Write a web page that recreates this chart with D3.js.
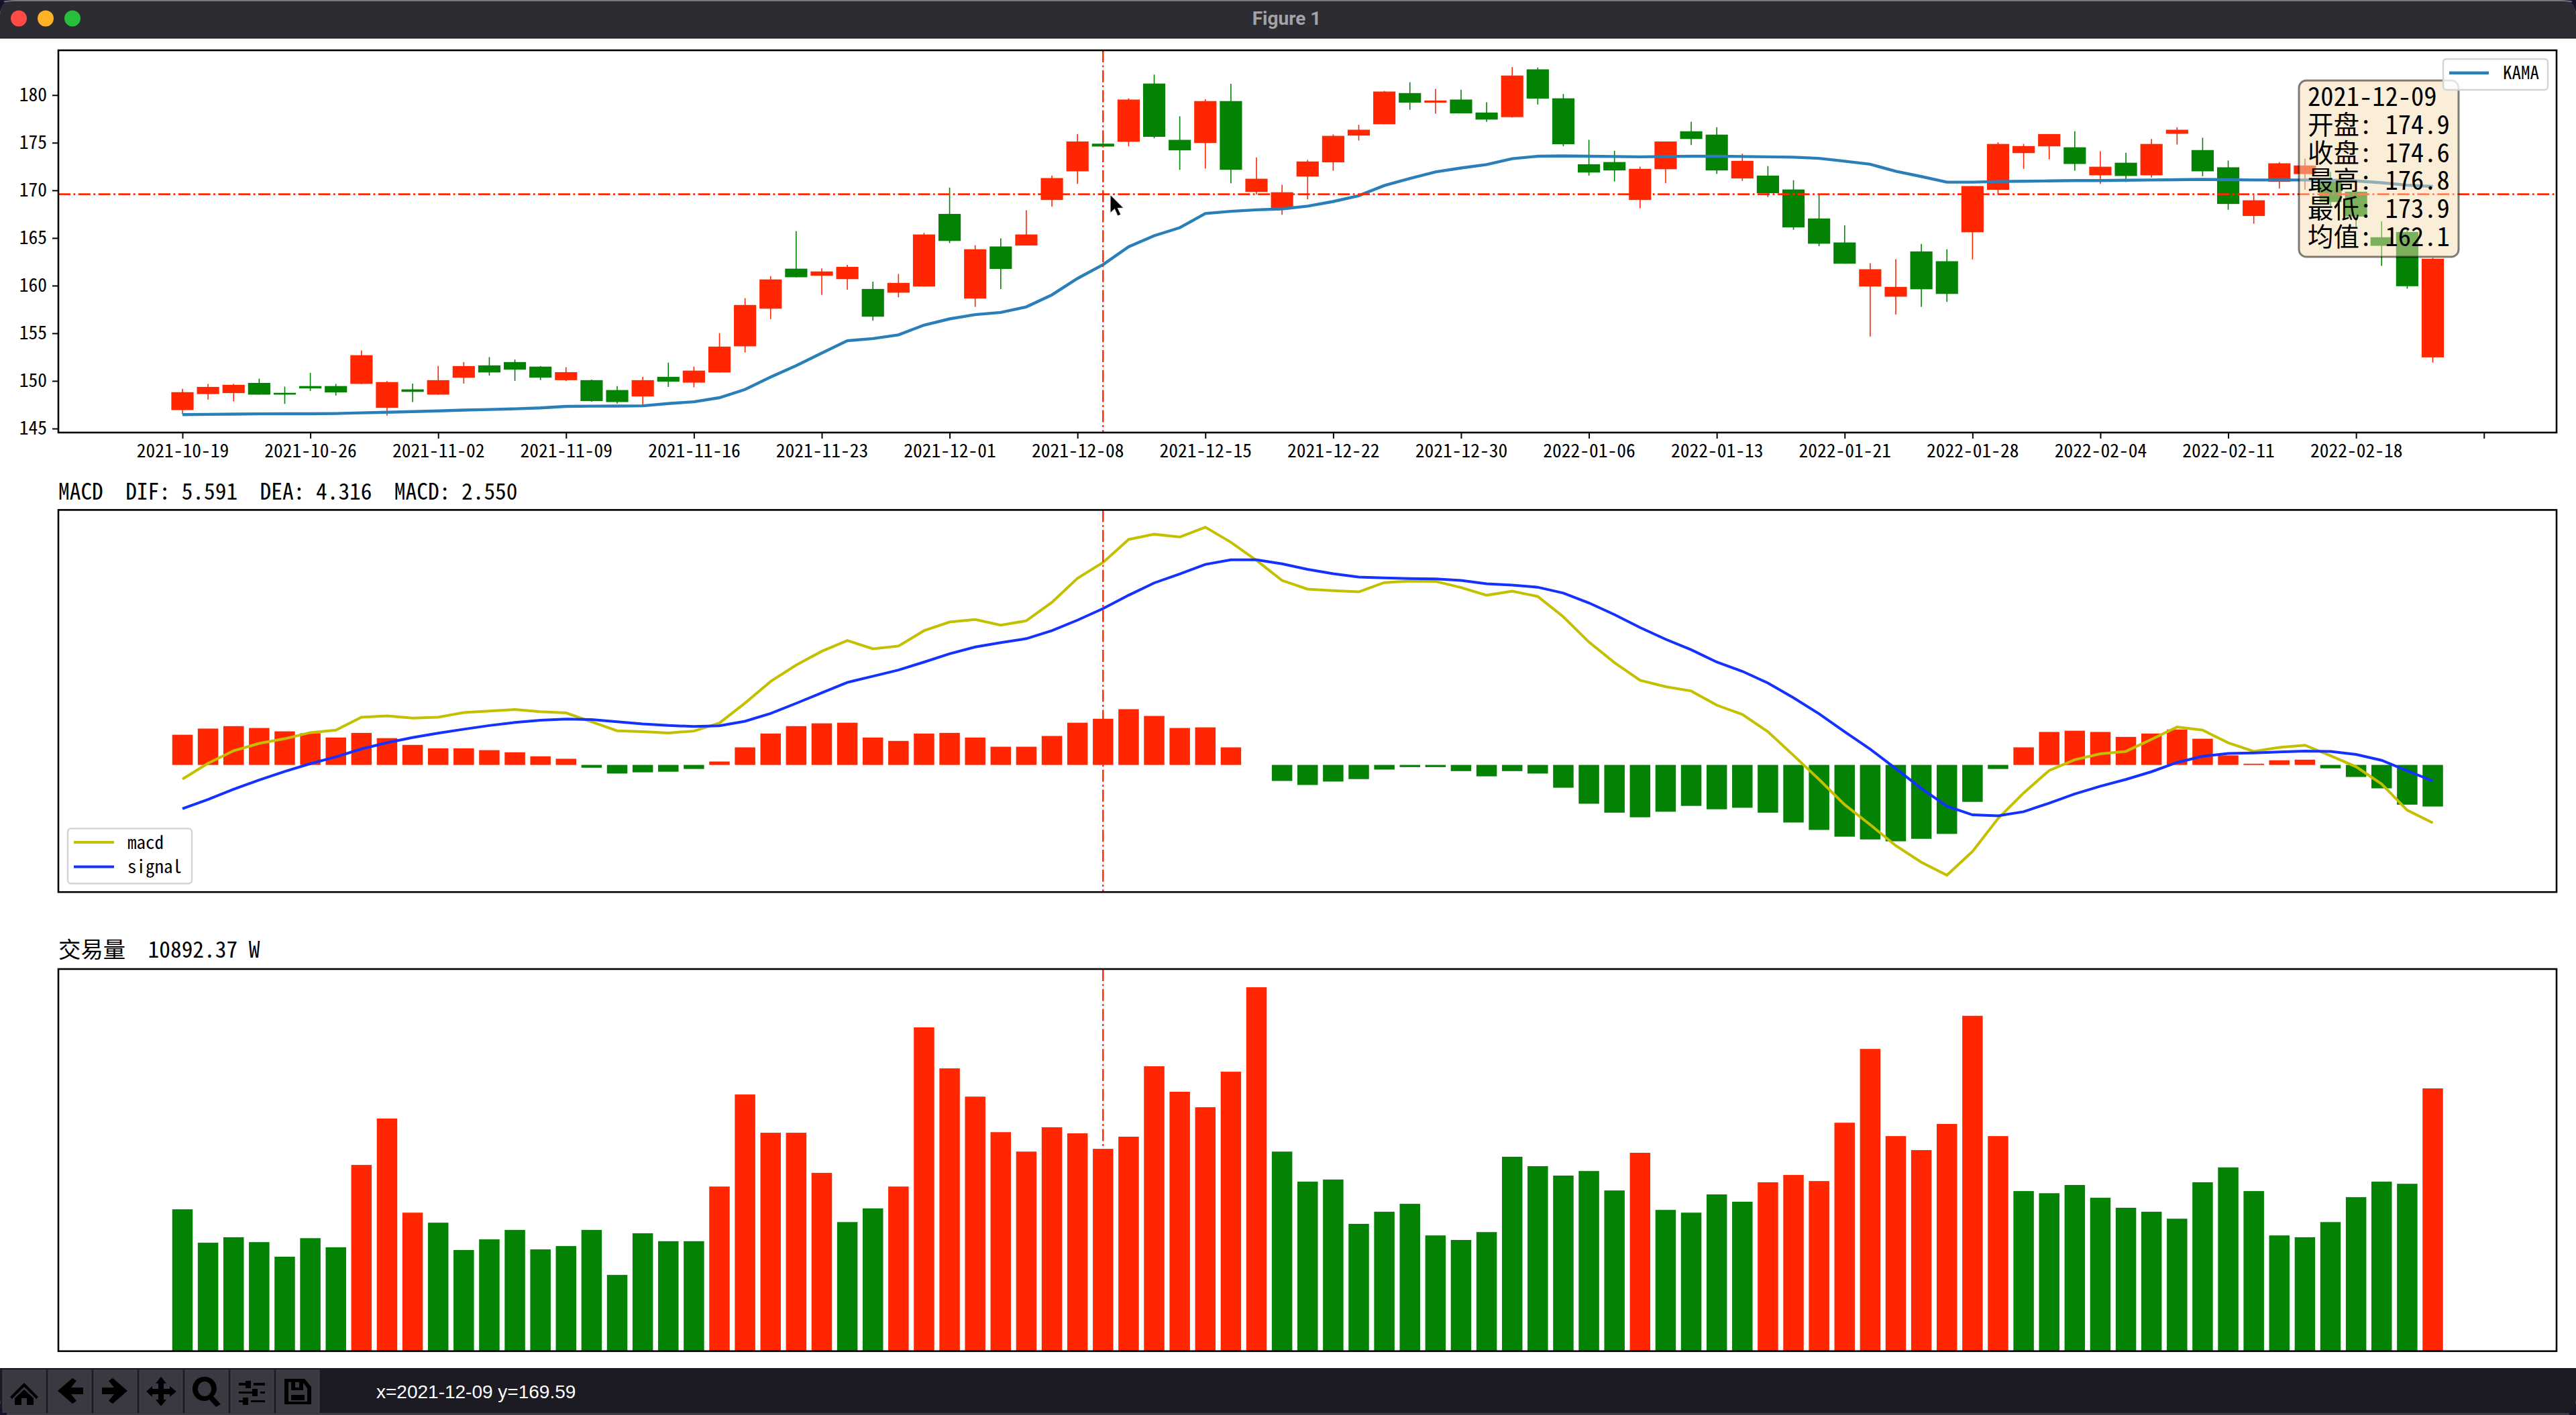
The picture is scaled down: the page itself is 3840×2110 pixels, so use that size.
<!DOCTYPE html>
<html>
<head>
  <meta charset="utf-8">
  <script src="https://cdnjs.cloudflare.com/ajax/libs/d3/7.0.0/d3.min.js"></script>
  <style>
    html, body { margin: 0; padding: 0; background: #15132b; }
    svg { display: block; }
    text { font-family: "Noto Sans Mono CJK SC", "Noto Sans CJK SC", monospace; }
  </style>
</head>
<body>
  <div id="chart"></div>

  <script>
    var tickLabels = ["2021-10-19","2021-10-26","2021-11-02","2021-11-09","2021-11-16","2021-11-23","2021-12-01","2021-12-08","2021-12-15","2021-12-22","2021-12-30","2022-01-06","2022-01-13","2022-01-21","2022-01-28","2022-02-04","2022-02-11","2022-02-18",""];
    var priceTicks = [145,150,155,160,165,170,175,180];

    var opens = [146.94,148.62,148.72,149.79,148.75,149.46,149.46,149.69,147.17,149.11,148.56,150.34,151.63,151.98,151.50,150.08,150.08,149.04,148.37,150.43,149.82,150.89,153.63,157.58,161.78,161.04,160.68,159.65,159.26,159.91,167.53,158.65,164.11,164.21,168.99,172.00,174.9,175.10,181.21,175.30,174.97,179.37,169.83,168.02,171.45,172.94,175.75,176.94,180.21,179.21,179.53,178.17,177.69,182.70,179.66,172.74,172.97,168.99,172.22,176.20,175.85,171.25,171.55,170.09,167.05,164.53,159.91,158.84,163.59,162.56,165.60,170.06,173.91,174.62,174.52,171.58,172.90,171.58,175.94,174.23,172.42,167.31,170.90,171.71,171.13,169.86,165.08,165.63,152.47];
    var closes = [148.82,149.37,149.59,148.56,148.56,149.21,148.79,152.70,149.88,148.85,150.08,151.56,150.89,151.18,150.34,150.92,147.88,147.78,150.08,149.92,151.08,153.60,157.97,160.65,160.88,161.49,161.97,156.74,160.29,165.37,164.69,163.82,161.75,165.37,171.29,175.13,174.6,179.53,175.62,174.20,179.37,172.16,171.22,169.80,173.03,175.72,176.36,180.37,179.21,179.43,178.08,177.43,182.05,179.63,174.84,171.87,172.09,172.26,175.13,175.39,172.09,173.10,169.70,166.11,164.40,162.30,161.72,159.87,159.62,159.13,170.45,174.87,174.65,175.91,172.77,172.48,171.51,174.87,176.36,172.00,168.57,168.96,172.84,172.61,168.77,167.25,164.18,159.94,162.82];
    var highs = [149.17,149.69,149.69,150.24,149.40,150.85,149.69,153.21,149.98,149.72,151.56,151.98,152.50,152.24,151.56,151.44,150.14,149.46,150.43,151.92,151.50,155.02,158.68,161.00,165.72,161.81,162.17,160.42,161.23,165.53,170.29,164.24,164.95,167.92,171.55,175.91,175.6,179.66,182.15,177.78,179.56,181.18,173.45,170.58,173.19,175.88,176.88,180.44,181.34,180.66,180.57,179.24,182.93,182.89,180.11,175.30,174.16,172.48,175.13,177.20,176.62,173.84,172.55,171.06,169.57,166.34,162.36,162.78,164.37,163.82,170.45,175.04,174.87,175.91,176.20,174.10,173.94,175.39,176.62,175.52,173.13,169.48,172.97,173.32,171.93,170.29,166.73,166.05,162.91];
    var lows = [146.52,148.04,147.85,148.56,147.59,148.95,148.46,149.69,146.36,147.78,148.56,149.72,150.56,150.01,150.08,149.98,147.81,147.62,147.36,149.37,149.33,150.89,152.99,156.48,160.88,159.03,159.58,156.32,158.77,159.91,164.47,157.77,159.65,164.21,168.28,170.67,174.5,174.62,175.46,172.16,172.29,170.74,169.57,167.44,169.06,172.06,175.23,176.94,178.46,178.04,178.08,177.20,177.65,179.01,174.62,171.55,170.93,168.12,170.77,174.75,171.74,171.00,169.31,165.86,164.14,162.30,154.67,156.96,157.77,158.29,162.75,169.64,172.26,173.26,172.06,170.67,170.87,171.35,174.81,171.48,167.96,166.50,170.19,170.06,168.31,166.11,162.07,159.68,151.92];
    var kama = [146.46,146.49,146.52,146.54,146.55,146.55,146.58,146.65,146.71,146.78,146.85,146.94,147.00,147.07,147.17,147.33,147.35,147.36,147.39,147.62,147.81,148.24,149.10,150.40,151.60,152.92,154.22,154.44,154.83,155.86,156.51,156.96,157.19,157.77,159.03,160.75,162.20,164.08,165.24,166.08,167.57,167.80,167.96,168.05,168.34,168.83,169.44,170.51,171.25,171.93,172.35,172.71,173.32,173.58,173.61,173.58,173.55,173.52,173.55,173.58,173.58,173.55,173.52,173.48,173.36,173.06,172.74,172.00,171.45,170.86,170.86,170.93,170.96,170.99,171.03,171.03,171.06,171.09,171.12,171.15,171.12,171.09,171.09,171.09,171.06,170.99,170.80,170.54,170.41];

    var macdLine = [-0.391,0.043,0.391,0.595,0.723,0.893,0.961,1.318,1.352,1.292,1.318,1.446,1.488,1.531,1.471,1.437,1.19,0.944,0.918,0.884,0.935,1.156,1.709,2.304,2.755,3.138,3.435,3.206,3.282,3.707,3.945,4.014,3.86,3.979,4.49,5.153,5.591,6.224,6.369,6.292,6.564,6.148,5.646,5.093,4.855,4.813,4.779,5.034,5.076,5.068,4.898,4.685,4.796,4.651,4.09,3.393,2.823,2.338,2.16,2.041,1.65,1.394,0.918,0.264,-0.4,-1.097,-1.65,-2.228,-2.687,-3.044,-2.389,-1.48,-0.774,-0.153,0.145,0.306,0.374,0.706,1.046,0.961,0.612,0.374,0.485,0.544,0.255,-0.051,-0.527,-1.25,-1.599];
    var signalLine = [-1.207,-0.952,-0.672,-0.417,-0.179,0.034,0.221,0.442,0.612,0.757,0.876,0.986,1.088,1.173,1.233,1.267,1.25,1.19,1.131,1.088,1.063,1.08,1.207,1.42,1.701,1.99,2.279,2.449,2.619,2.84,3.07,3.257,3.376,3.486,3.707,3.997,4.316,4.685,5.025,5.272,5.536,5.663,5.663,5.553,5.4,5.281,5.187,5.162,5.145,5.136,5.093,5.0,4.966,4.906,4.745,4.473,4.15,3.792,3.469,3.18,2.84,2.585,2.262,1.854,1.412,0.918,0.434,-0.102,-0.646,-1.139,-1.378,-1.403,-1.292,-1.054,-0.799,-0.587,-0.4,-0.187,0.068,0.238,0.315,0.332,0.357,0.383,0.374,0.289,0.128,-0.162,-0.442];
    var macdBars = [0.833,1.003,1.071,1.02,0.927,0.876,0.757,0.884,0.74,0.553,0.459,0.459,0.408,0.349,0.238,0.17,-0.077,-0.238,-0.204,-0.187,-0.111,0.094,0.485,0.867,1.071,1.148,1.165,0.757,0.663,0.867,0.884,0.757,0.502,0.502,0.799,1.165,1.275,1.539,1.352,1.02,1.037,0.485,0,-0.442,-0.553,-0.459,-0.391,-0.128,-0.06,-0.06,-0.17,-0.315,-0.17,-0.238,-0.629,-1.071,-1.318,-1.445,-1.292,-1.131,-1.224,-1.182,-1.318,-1.59,-1.794,-1.981,-2.057,-2.108,-2.04,-1.904,-1.02,-0.111,0.485,0.91,0.944,0.91,0.774,0.867,0.978,0.723,0.264,0.034,0.128,0.145,-0.094,-0.332,-0.646,-1.097,-1.148];

    var volumes = [7638,5839,6133,5871,5086,6084,5593,10026,12528,7458,6918,5446,6019,6526,5479,5659,6526,4105,6346,5920,5920,8864,13820,11759,11759,9600,6951,7687,8864,17434,15226,13705,11792,10745,12054,11727,10892.37,11547,15341,13967,13133,15047,19593,10745,9126,9241,6853,7507,7932,6231,5986,6411,10467,9960,9453,9699,8652,10680,7605,7458,8439,8047,9093,9486,9159,12299,16273,11579,10827,12234,18056,11579,8619,8505,8946,8259,7720,7507,7131,9093,9895,8619,6231,6133,6951,8292,9126,9012,14147];
    var volumeRedDays = [7,8,9,21,22,23,24,25,28,29,30,31,32,33,34,35,36,37,38,39,40,41,42,57,62,63,64,65,66,67,68,69,70,71,88];

    var tooltipLines = ["2021-12-09","开盘: 174.9","收盘: 174.6","最高: 176.8","最低: 173.9","均值: 162.1"];
    var cursorDay = 36, cursorPrice = 169.59;

    var RED = "#ff2600", GREEN = "#048204", KAMA_BLUE = "#2a7fb8", MACD_YELLOW = "#c4c000", SIGNAL_BLUE = "#1432ff";
    var W = 3840, H = 2110;
    var left = 87, right = 3811;

    var svg = d3.select("#chart").append("svg").attr("width", W).attr("height", H);

    // window chrome
    svg.append("rect").attr("x", 0).attr("y", 0).attr("width", W).attr("height", H)
      .attr("rx", 22).attr("fill", "#ffffff");
    svg.append("path").attr("d", "M0,57V22Q0,0 22,0H3818Q3840,0 3840,22V57Z").attr("fill", "#2e2c33");
    svg.append("path").attr("d", "M6,2.5Q14,1 22,1H3818Q3826,1 3834,2.5").attr("fill", "none").attr("stroke", "#77757c").attr("stroke-width", 2);
    svg.append("line").attr("x1", 0).attr("x2", W).attr("y1", 57).attr("y2", 57).attr("stroke", "#111");
    svg.selectAll("circle.light").data(["#ff4b45", "#ffb127", "#27c03c"]).enter().append("circle")
      .attr("cx", (d, i) => 28 + i * 40).attr("cy", 27.5).attr("r", 12).attr("fill", d => d);
    svg.append("text").attr("x", 1918).attr("y", 37).attr("text-anchor", "middle")
      .style("font-family", "Roboto, 'Liberation Sans', sans-serif").style("font-weight", 700).style("font-size", "28px")
      .attr("fill", "#a3a2a6").text("Figure 1");

    var x = d3.scaleLinear().domain([-4.853, 92.84]).range([left, right]);
    var unit = x(1) - x(0);
    var yPrice = d3.scaleLinear().domain([144.58, 184.7]).range([645, 75]);
    var yMacd = d3.scaleLinear().domain([-3.51, 7.04]).range([1330.2, 760.4]);
    var yVol = d3.scaleLinear().domain([0, 20574]).range([2014.8, 1445]);

    var days = d3.range(opens.length);

    function frame(g, top, bottom) {
      g.append("rect").attr("x", left).attr("y", top).attr("width", right - left).attr("height", bottom - top)
        .attr("fill", "none").attr("stroke", "#000").attr("stroke-width", 2.6);
    }

    function crossV(g, top, bottom) {
      g.append("line").attr("x1", x(cursorDay)).attr("x2", x(cursorDay)).attr("y1", top).attr("y2", bottom)
        .attr("stroke", RED).attr("stroke-width", 2.4).attr("stroke-dasharray", "18 4.5 2.8 4.5");
    }

    // ---- price panel
    var priceG = svg.append("g");
    priceG.selectAll("line.wick").data(days).enter().append("line")
      .attr("x1", d => x(d)).attr("x2", d => x(d))
      .attr("y1", d => yPrice(highs[d])).attr("y2", d => yPrice(lows[d]))
      .attr("stroke", d => closes[d] >= opens[d] ? RED : GREEN).attr("stroke-width", 1.6);
    priceG.selectAll("rect.body").data(days).enter().append("rect")
      .attr("x", d => x(d) - unit * 0.435).attr("width", unit * 0.87)
      .attr("y", d => yPrice(Math.max(opens[d], closes[d])))
      .attr("height", d => Math.abs(yPrice(opens[d]) - yPrice(closes[d])))
      .attr("fill", d => closes[d] >= opens[d] ? RED : GREEN);
    priceG.append("path").datum(kama)
      .attr("d", d3.line().x((d, i) => x(i)).y(d => yPrice(d)))
      .attr("fill", "none").attr("stroke", KAMA_BLUE).attr("stroke-width", 4.4);
    crossV(priceG, 75, 645);
    priceG.append("line").attr("x1", left).attr("x2", right).attr("y1", yPrice(cursorPrice)).attr("y2", yPrice(cursorPrice))
      .attr("stroke", RED).attr("stroke-width", 2.8).attr("stroke-dasharray", "18 4.5 2.8 4.5");
    frame(priceG, 75, 645);

    var xAxis = d3.axisBottom(x).tickValues(tickLabels.map((d, i) => i * 5))
      .tickFormat((d, i) => tickLabels[i]).tickSize(9).tickSizeOuter(0).tickPadding(8);
    var xG = priceG.append("g").attr("transform", "translate(0,645)").call(xAxis);
    xG.select(".domain").remove();
    xG.selectAll("line").attr("stroke", "#000").attr("stroke-width", 2);
    xG.selectAll("text").attr("fill", "#000").style("font-size", "27.5px");

    var yAxis = d3.axisLeft(yPrice).tickValues(priceTicks).tickSize(9).tickSizeOuter(0).tickPadding(8);
    var yG = priceG.append("g").attr("transform", "translate(" + left + ",0)").call(yAxis);
    yG.select(".domain").remove();
    yG.selectAll("line").attr("stroke", "#000").attr("stroke-width", 2);
    yG.selectAll("text").attr("fill", "#000").style("font-size", "27.5px");

    // tooltip box sits over the candles, half transparent
    var tip = svg.append("g");
    tip.append("rect").attr("x", 3427).attr("y", 120).attr("width", 238).attr("height", 263).attr("rx", 11)
      .attr("fill", "wheat").attr("fill-opacity", 0.5).attr("stroke", "#000").attr("stroke-opacity", 0.5).attr("stroke-width", 3);
    tip.selectAll("text").data(tooltipLines).enter().append("text")
      .attr("x", 3440).attr("y", (d, i) => 158 + i * 41.8)
      .attr("fill", "#000").style("font-size", "38.5px").text(d => d);

    // KAMA legend
    var lg1 = svg.append("g");
    lg1.append("rect").attr("x", 3642).attr("y", 88).attr("width", 156).attr("height", 46).attr("rx", 5)
      .attr("fill", "#fff").attr("fill-opacity", 0.8).attr("stroke", "#d4d4d4").attr("stroke-width", 2.4);
    lg1.append("line").attr("x1", 3651).attr("x2", 3710).attr("y1", 108.7).attr("y2", 108.7).attr("stroke", KAMA_BLUE).attr("stroke-width", 4.4);
    lg1.append("text").attr("x", 3731).attr("y", 118).attr("fill", "#000").style("font-size", "27px").text("KAMA");

    // ---- macd panel
    var macdG = svg.append("g");
    macdG.selectAll("rect").data(days.filter(d => macdBars[d] !== 0)).enter().append("rect")
      .attr("x", d => x(d) - unit * 0.4).attr("width", unit * 0.8)
      .attr("y", d => yMacd(Math.max(0, macdBars[d])))
      .attr("height", d => Math.abs(yMacd(macdBars[d]) - yMacd(0)))
      .attr("fill", d => macdBars[d] >= 0 ? RED : GREEN);
    var macdPath = d3.line().x((d, i) => x(i)).y(d => yMacd(d));
    macdG.append("path").datum(macdLine).attr("d", macdPath).attr("fill", "none").attr("stroke", MACD_YELLOW).attr("stroke-width", 4);
    macdG.append("path").datum(signalLine).attr("d", macdPath).attr("fill", "none").attr("stroke", SIGNAL_BLUE).attr("stroke-width", 4);
    crossV(macdG, 760.4, 1330.2);
    frame(macdG, 760.4, 1330.2);

    svg.append("text").attr("x", left).attr("y", 744.5).attr("fill", "#000").style("font-size", "33.4px").style("white-space", "pre")
      .text("MACD  DIF: 5.591  DEA: 4.316  MACD: 2.550");

    var lg2 = svg.append("g");
    lg2.append("rect").attr("x", 101).attr("y", 1235.5).attr("width", 185).attr("height", 82).attr("rx", 5)
      .attr("fill", "#fff").attr("fill-opacity", 0.8).attr("stroke", "#d4d4d4").attr("stroke-width", 2.4);
    lg2.selectAll("line").data([[MACD_YELLOW, "macd"], [SIGNAL_BLUE, "signal"]]).enter().append("line")
      .attr("x1", 110).attr("x2", 170).attr("y1", (d, i) => 1256 + i * 36.4).attr("y2", (d, i) => 1256 + i * 36.4)
      .attr("stroke", d => d[0]).attr("stroke-width", 4);
    lg2.selectAll("text").data(["macd", "signal"]).enter().append("text")
      .attr("x", 190).attr("y", (d, i) => 1265.5 + i * 36.4).attr("fill", "#000").style("font-size", "27px").text(d => d);

    // ---- volume panel
    var volG = svg.append("g");
    volG.selectAll("rect").data(days).enter().append("rect")
      .attr("x", d => x(d) - unit * 0.4).attr("width", unit * 0.8)
      .attr("y", d => yVol(volumes[d]))
      .attr("height", d => yVol(0) - yVol(volumes[d]))
      .attr("fill", d => volumeRedDays.indexOf(d) >= 0 ? RED : GREEN);
    crossV(volG, 1445, 2014.8);
    frame(volG, 1445, 2014.8);
    svg.append("text").attr("x", left).attr("y", 1428).attr("fill", "#000").style("font-size", "33.4px").style("white-space", "pre")
      .text("交易量  10892.37 W");

    // mouse pointer left in the screenshot
    svg.append("path").attr("d", "M1655,290V318L1661.5,312L1666,322L1671,320L1666.5,310.5L1675,310Z")
      .attr("fill", "#000").attr("stroke", "#e8e8e8").attr("stroke-width", 1.2);

    // ---- toolbar
    svg.append("path").attr("d", "M0,2040H3840V2088Q3840,2110 3818,2110H22Q0,2110 0,2088Z").attr("fill", "#1c1a22");
    svg.append("rect").attr("x", 10).attr("y", 2107).attr("width", 3820).attr("height", 3).attr("fill", "#3e3c44");
    var btnX = [4, 72, 140, 208, 276, 344, 412];
    svg.selectAll("rect.btn").data(btnX).enter().append("rect")
      .attr("x", d => d).attr("y", 2043).attr("width", 64).attr("height", 63)
      .attr("fill", "#3a3840").attr("stroke", "#46444c").attr("stroke-width", 1);
    var icons = [
      "M36,2062L15,2083L18,2086L36,2068L54,2086L57,2083ZM36,2072L22,2085V2095H32V2085H40V2095H50V2085Z",
      "M108,2055L86,2074L108,2093L114,2089L106,2079H124V2069H106L114,2059Z",
      "M168,2055L190,2074L168,2093L162,2089L170,2079H152V2069H170L162,2059Z",
      "M240,2053L248,2063H244V2071H253V2067L263,2075L253,2083V2079H244V2087H248L240,2097L232,2087H236V2079H227V2083L218,2075L227,2067V2071H236V2063H232Z",
      "M305,2053C294,2053 287,2061 287,2071C287,2081 294,2089 305,2089C308,2089 310,2088 312,2087L322,2098L329,2094L318,2082C321,2079 323,2075 323,2071C323,2061 316,2053 305,2053ZM305,2060C311,2060 315,2065 315,2071C315,2077 311,2082 305,2082C299,2082 295,2077 295,2071C295,2065 299,2060 305,2060Z",
      "M356,2062H366V2059H374V2070H366V2066H356ZM378,2062H395V2066H378ZM356,2075H376V2071H384V2082H376V2078H356ZM388,2075H395V2078H388ZM356,2088H362V2084H370V2095H362V2091H356ZM374,2088H395V2091H374Z",
      "M424,2056H454L464,2068V2094H424ZM430,2061V2090H458V2070L452,2062V2073H434V2061ZM440,2061V2069H446V2061ZM434,2080V2088H454V2080Z"
    ];
    svg.selectAll("path.icon").data(icons).enter().append("path")
      .attr("d", d => d).attr("fill", "#000").attr("fill-rule", "evenodd");
    svg.append("text").attr("x", 561).attr("y", 2085)
      .style("font-family", "'Liberation Sans', sans-serif").style("font-size", "28px")
      .attr("fill", "#fff").text("x=2021-12-09 y=169.59");
  </script>
</body>
</html>
